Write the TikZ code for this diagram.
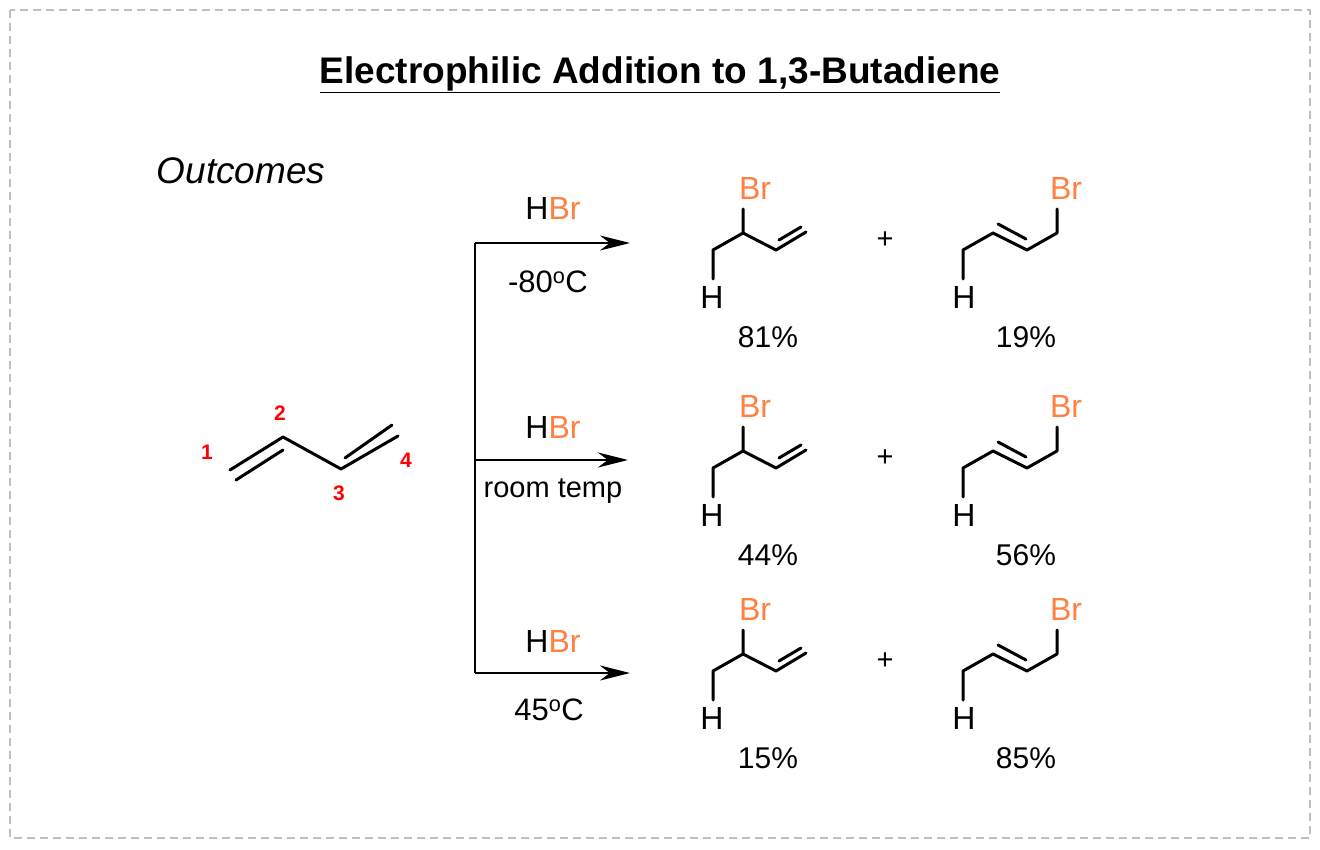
\documentclass[tikz,border=0pt]{standalone}
\usepackage{fontspec}
\setmainfont{Liberation Sans}
\usetikzlibrary{arrows.meta}
\definecolor{brc}{RGB}{255,128,64}
\newcommand{\fs}[1]{\fontsize{#1}{#1}\selectfont}
\begin{document}
\begin{tikzpicture}[x=1pt,y=-1pt,
  bond/.style={line width=3pt,line cap=round,line join=round},
  lbl/.style={inner sep=0pt,font=\fs{32}},
  brl/.style={lbl,text=brc},
  num/.style={inner sep=0pt,font=\fs{21}\bfseries,text=red},
  arr/.style={line width=2.7pt,-{Stealth[length=30pt,width=15pt]}}]
\useasboundingbox (0,0) rectangle (1320,850);
\draw[gray!50,line width=1.5pt,dash pattern=on 8pt off 5pt] (10,10) rectangle (1310,838);
\node[inner sep=0pt,font=\fs{37}\bfseries] (title) at (660,75) {\underline{Electrophilic Addition to 1,3-Butadiene}};
\node[inner sep=0pt,font=\fs{37}\itshape] (out) at (241,171) {Outcomes};
% butadiene
\coordinate (c1) at (230,470); \coordinate (c2) at (283,437);
\coordinate (c3) at (341,469); \coordinate (c4) at (398,436);
\draw[bond] (c1)--(c2)--(c3)--(c4);
\draw[bond] (236,480)--(283,450);
\draw[bond] (345,458)--(392,425);
\node[num] (n1) at (207,452) {1};
\node[num] (n2) at (280,413) {2};
\node[num] (n3) at (339,493) {3};
\node[num] (n4) at (406,460) {4};
% reaction lines
\coordinate (v1) at (475,243); \coordinate (v2) at (475,460); \coordinate (v3) at (475,673);
\draw[line width=2.7pt] (v1)--(v3);
\coordinate (e1) at (630,243); \coordinate (e2) at (628,460); \coordinate (e3) at (630,673);
\draw[arr] (v1)--(e1); \draw[arr] (v2)--(e2); \draw[arr] (v3)--(e3);
\node[lbl] (r1) at (553,208) {H\textcolor{brc}{Br}};
\node[lbl] (r2) at (553,427) {H\textcolor{brc}{Br}};
\node[lbl] (r3) at (553,641) {H\textcolor{brc}{Br}};
\node[inner sep=0pt,font=\fs{31}] (t1) at (548,282) {-80\textsuperscript{o}C};
\node[inner sep=0pt,font=\fs{29}] (t2) at (553,491) {room temp};
\node[inner sep=0pt,font=\fs{31}] (t3) at (549,710) {45\textsuperscript{o}C};
% products
\foreach \dy/\a/\b [count=\i] in {0/81/19,218/44/56,421/15/85}{
  \begin{scope}[yshift=-\dy pt]
  \node[brl] (bra\i) at (755,188) {Br};
  \node[lbl] (ha\i) at (712,297) {H};
  \draw[bond] (743,209)--(743,233)--(713,250)--(713,279);
  \draw[bond] (743,233)--(776,250)--(806,232);
  \draw[bond] (779,240)--(801,227);
  \node[inner sep=0pt,font=\fs{29}] (p\i) at (885,240) {+};
  \node[lbl] (hb\i) at (964,297) {H};
  \node[brl] (brb\i) at (1066,188) {Br};
  \draw[bond] (963,279)--(963,250)--(993,233)--(1027,250)--(1057,233)--(1057,209);
  \draw[bond] (998,224)--(1026,239);
  \node[inner sep=0pt,font=\fs{30}] (pa\i) at (768,337) {\a\%};
  \node[inner sep=0pt,font=\fs{30}] (pb\i) at (1026,337) {\b\%};
  \end{scope}}
\end{tikzpicture}
\end{document}
